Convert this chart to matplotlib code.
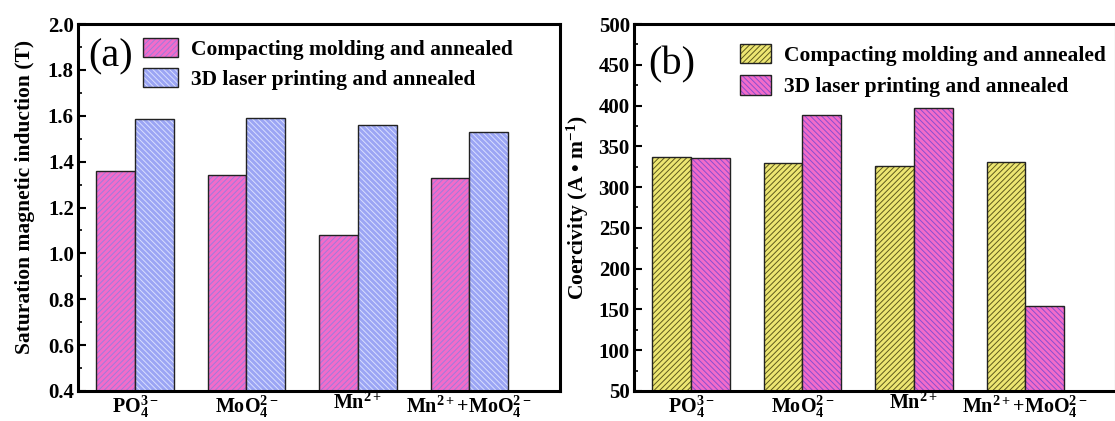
import matplotlib
matplotlib.use("Agg")
import matplotlib.pyplot as plt
import numpy as np
from matplotlib.ticker import MultipleLocator

plt.rcParams['font.family'] = ['Liberation Serif', 'DejaVu Serif']
plt.rcParams['font.weight'] = 'bold'
plt.rcParams['mathtext.fontset'] = 'custom'
plt.rcParams['mathtext.rm'] = 'Liberation Serif:bold'
plt.rcParams['mathtext.bf'] = 'Liberation Serif:bold'
plt.rcParams['mathtext.it'] = 'Liberation Serif:bold'
plt.rcParams['mathtext.default'] = 'bf'
plt.rcParams['hatch.linewidth'] = 0.7

categories = [r'$PO_4^{3-}$', r'$MoO_4^{2-}$', r'$Mn^{2+}$', r'$Mn^{2+}$+$MoO_4^{2-}$']
series_names = ['Compacting molding and annealed', '3D laser printing and annealed']

saturation_compact = [1.36, 1.34, 1.08, 1.33]
saturation_laser = [1.587, 1.589, 1.558, 1.527]

coercivity_compact = [336.5, 329.5, 326, 331]
coercivity_laser = [336, 388, 397, 154.5]

fig = plt.figure(figsize=(11.15, 4.21), dpi=100)
ax1 = fig.add_axes([78/1115, 1-391/421, 482/1115, 367/421])
ax2 = fig.add_axes([634/1115, 1-391/421, 482/1115, 367/421])

x = np.arange(1, len(categories) + 1)
w = 0.347

pink = '#F26CC9'
blue = '#9BA5F4'
yellow = '#EDE672'

def draw(ax, v1, v2, c1, c2, h1, h2, hc1, hc2, ylim, major, minor):
    b1 = ax.bar(x - w/2, v1, w, bottom=0, color=c1, edgecolor='#222222',
                linewidth=1.0, hatch=h1, label=series_names[0])
    b2 = ax.bar(x + w/2, v2, w, bottom=0, color=c2, edgecolor='#222222',
                linewidth=1.0, hatch=h2, label=series_names[1])
    for p in b1:
        p._hatch_color = matplotlib.colors.to_rgba(hc1)
    for p in b2:
        p._hatch_color = matplotlib.colors.to_rgba(hc2)
    ax.set_ylim(*ylim)
    ax.set_xlim(0.488, 4.814)
    ax.set_xticks(x)
    ax.set_xticklabels(categories, fontsize=14.5)
    ax.yaxis.set_major_locator(MultipleLocator(major))
    ax.yaxis.set_minor_locator(MultipleLocator(minor))
    ax.tick_params(axis='y', which='major', direction='in', length=6, width=1.5, labelsize=15, pad=3)
    ax.tick_params(axis='y', which='minor', direction='in', length=3, width=1.2)
    ax.tick_params(axis='x', length=0, pad=1.5)
    for s in ax.spines.values():
        s.set_linewidth(2.2)
    for t in ax.get_yticklabels():
        t.set_fontweight('bold')
    return b1, b2

draw(ax1, saturation_compact, saturation_laser, pink, blue, '//////', '\\\\\\\\\\\\',
     '#A07ADC', '#D8DEFF', (0.4, 2.0), 0.2, 0.1)
draw(ax2, coercivity_compact, coercivity_laser, yellow, pink, '//////', '\\\\\\\\\\\\',
     '#5E5A1C', '#8A4ED0', (50, 500), 50, 25)

ax1.set_ylabel('Saturation magnetic induction (T)', fontsize=15.5, fontweight='bold')
ax2.set_ylabel('Coercivity (A • m$^{-1}$)', fontsize=15.5, fontweight='bold')
ax1.yaxis.set_label_coords(-0.09, 0.53)
ax2.yaxis.set_label_coords(-0.09, 0.5)

ax1.text(0.022, 0.91, '(a)', transform=ax1.transAxes, fontsize=29, fontweight='normal',
         va='center', ha='left')
ax2.text(0.03, 0.89, '(b)', transform=ax2.transAxes, fontsize=29, fontweight='normal',
         va='center', ha='left')

ax1.legend(loc='upper left', bbox_to_anchor=(0.118, 0.985), frameon=False,
           handlelength=1.6, handleheight=1.0, handletextpad=0.6, labelspacing=0.35,
           borderaxespad=0, prop={'weight': 'bold', 'size': 15.5})
ax2.legend(loc='upper left', bbox_to_anchor=(0.203, 0.97), frameon=False,
           handlelength=1.4, handleheight=1.0, handletextpad=0.6, labelspacing=0.45,
           borderaxespad=0, prop={'weight': 'bold', 'size': 15.5})

fig.savefig('out.png', dpi=100)
